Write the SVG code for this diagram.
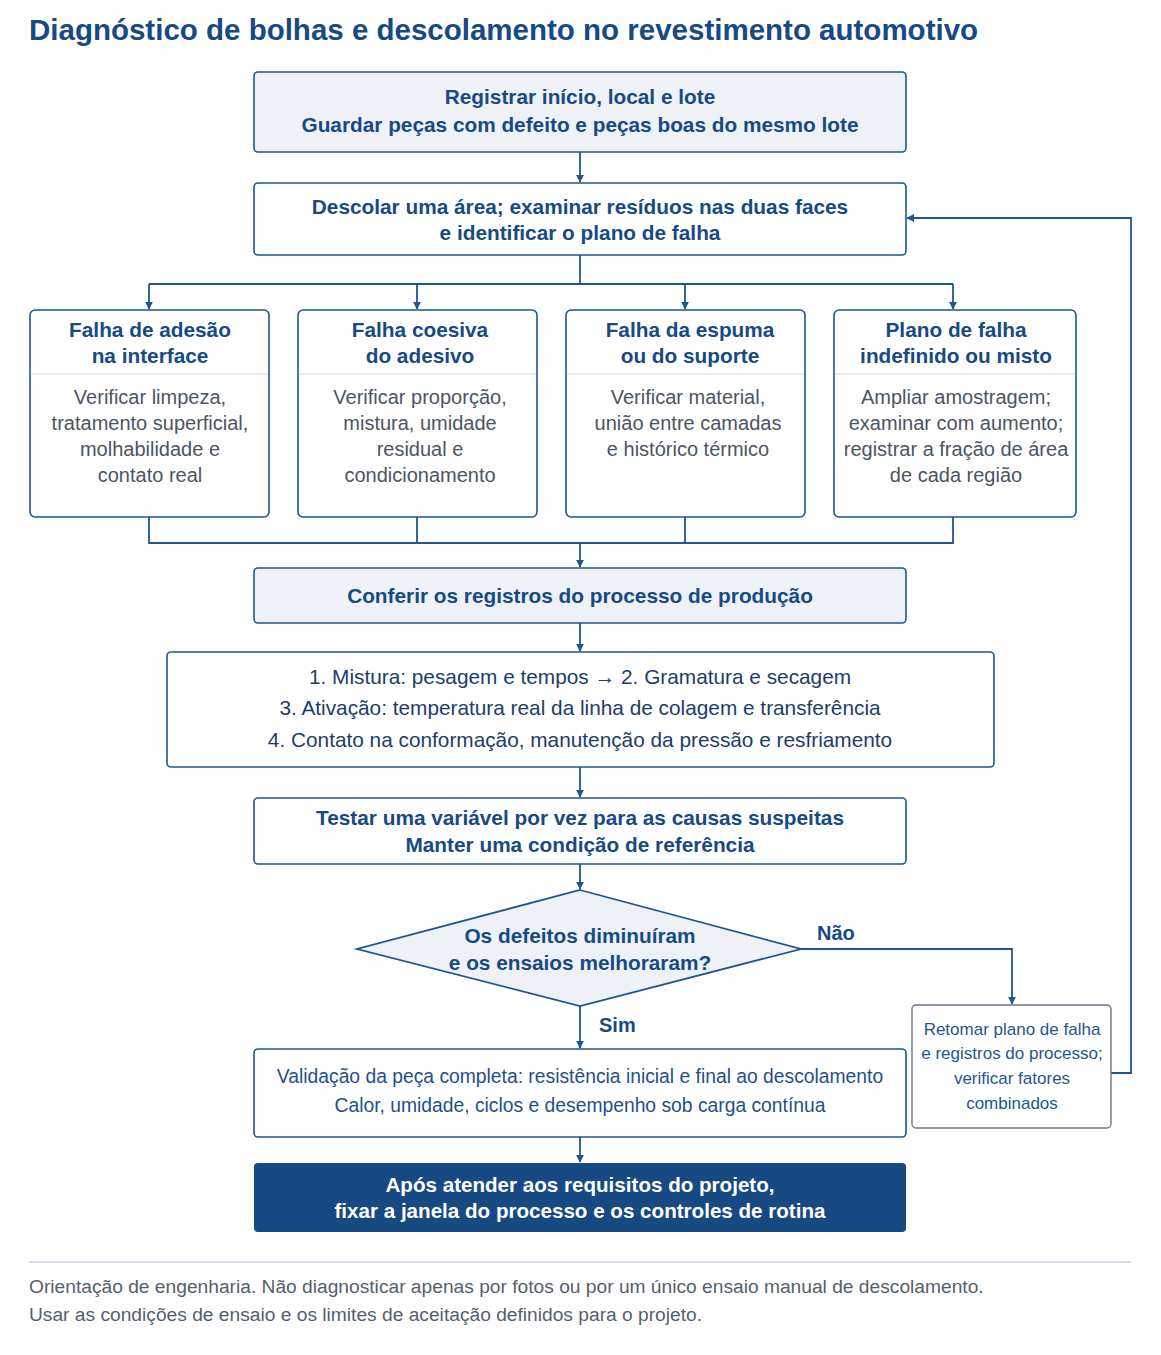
<svg xmlns="http://www.w3.org/2000/svg" width="1161" height="1355" viewBox="0 0 1161 1355">
<defs>
<marker id="arr" viewBox="0 0 10 10" refX="9" refY="5" markerWidth="8" markerHeight="8" markerUnits="userSpaceOnUse" orient="auto">
<path d="M0,0 L10,5 L0,10 z" fill="#1f5596"/>
</marker>
<style>
.t{font-family:"Liberation Sans",Arial,sans-serif}
.title{font-size:29.5px;font-weight:bold;fill:#174a85}
.hb{font-size:20.8px;font-weight:bold;fill:#174a85;text-anchor:middle}
.body{font-size:20px;fill:#4b5563;text-anchor:middle}
.list{font-size:20.8px;fill:#1c3d6b;text-anchor:middle}
.val{font-size:19.3px;fill:#1f4f8c;text-anchor:middle}
.ret{font-size:17px;fill:#1f5596;text-anchor:middle}
.lbl{font-size:20px;font-weight:bold;fill:#174a85}
.wb{font-size:20.6px;font-weight:bold;fill:#ffffff;text-anchor:middle}
.foot{font-size:19.2px;fill:#555f6d}
.box{fill:#ffffff;stroke:#1f5596;stroke-width:1.6}
.gbox{fill:#eef1f5;stroke:#1f5596;stroke-width:1.6}
.conn{fill:none;stroke:#1f5596;stroke-width:1.8}
.sep{stroke:#c9d6e6;stroke-width:1.2}
</style>
</defs>
<rect width="1161" height="1355" fill="#ffffff"/>
<text class="t title" x="29" y="40">Diagnóstico de bolhas e descolamento no revestimento automotivo</text>

<g id="connectors">
<path class="conn" d="M580,152 V182" marker-end="url(#arr)"/>
<path class="conn" d="M580,255 V284 M149,284 H953"/>
<path class="conn" d="M149,284 V309" marker-end="url(#arr)"/>
<path class="conn" d="M417,284 V309" marker-end="url(#arr)"/>
<path class="conn" d="M685,284 V309" marker-end="url(#arr)"/>
<path class="conn" d="M953,284 V309" marker-end="url(#arr)"/>
<path class="conn" d="M149,517 V543 H953 V517 M417,517 V543 M685,517 V543"/>
<path class="conn" d="M580,543 V567" marker-end="url(#arr)"/>
<path class="conn" d="M580,623 V651" marker-end="url(#arr)"/>
<path class="conn" d="M580,767 V797" marker-end="url(#arr)"/>
<path class="conn" d="M580,864 V889" marker-end="url(#arr)"/>
<path class="conn" d="M801,949 H1012 V1004" marker-end="url(#arr)"/>
<path class="conn" d="M1111,1073 H1131 V218 H907" marker-end="url(#arr)"/>
<path class="conn" d="M580,1006 V1048" marker-end="url(#arr)"/>
<path class="conn" d="M580,1137 V1162" marker-end="url(#arr)"/>
<text class="t lbl" x="817" y="940">Não</text>
<text class="t lbl" x="599" y="1032">Sim</text>
</g>

<g id="n-registrar">
<rect class="gbox" x="254" y="72" width="652" height="80" rx="4"/>
<text class="t hb" x="580" y="104">Registrar início, local e lote</text>
<text class="t hb" x="580" y="132">Guardar peças com defeito e peças boas do mesmo lote</text>
</g>

<g id="n-descolar">
<rect class="box" x="254" y="183" width="652" height="72" rx="4"/>
<text class="t hb" x="580" y="214">Descolar uma área; examinar resíduos nas duas faces</text>
<text class="t hb" x="580" y="240">e identificar o plano de falha</text>
</g>

<g id="n-adesao">
<rect class="box" x="30" y="310" width="239" height="207" rx="5"/>
<text class="t hb" x="150" y="337">Falha de adesão</text>
<text class="t hb" x="150" y="363">na interface</text>
<line class="sep" x1="31" y1="374" x2="268" y2="374"/>
<text class="t body" x="150" y="404">Verificar limpeza,</text>
<text class="t body" x="150" y="430">tratamento superficial,</text>
<text class="t body" x="150" y="456">molhabilidade e</text>
<text class="t body" x="150" y="482">contato real</text>
</g>

<g id="n-coesiva">
<rect class="box" x="298" y="310" width="239" height="207" rx="5"/>
<text class="t hb" x="420" y="337">Falha coesiva</text>
<text class="t hb" x="420" y="363">do adesivo</text>
<line class="sep" x1="299" y1="374" x2="536" y2="374"/>
<text class="t body" x="420" y="404">Verificar proporção,</text>
<text class="t body" x="420" y="430">mistura, umidade</text>
<text class="t body" x="420" y="456">residual e</text>
<text class="t body" x="420" y="482">condicionamento</text>
</g>

<g id="n-espuma">
<rect class="box" x="566" y="310" width="239" height="207" rx="5"/>
<text class="t hb" x="690" y="337">Falha da espuma</text>
<text class="t hb" x="690" y="363">ou do suporte</text>
<line class="sep" x1="567" y1="374" x2="804" y2="374"/>
<text class="t body" x="688" y="404">Verificar material,</text>
<text class="t body" x="688" y="430">união entre camadas</text>
<text class="t body" x="688" y="456">e histórico térmico</text>
</g>

<g id="n-indefinido">
<rect class="box" x="834" y="310" width="242" height="207" rx="5"/>
<text class="t hb" x="956" y="337">Plano de falha</text>
<text class="t hb" x="956" y="363">indefinido ou misto</text>
<line class="sep" x1="835" y1="374" x2="1075" y2="374"/>
<text class="t body" x="956" y="404">Ampliar amostragem;</text>
<text class="t body" x="956" y="430">examinar com aumento;</text>
<text class="t body" x="956" y="456">registrar a fração de área</text>
<text class="t body" x="956" y="482">de cada região</text>
</g>

<g id="n-conferir">
<rect class="gbox" x="254" y="568" width="652" height="55" rx="4"/>
<text class="t hb" x="580" y="603">Conferir os registros do processo de produção</text>
</g>

<g id="n-lista">
<rect class="box" x="167" y="652" width="827" height="115" rx="4"/>
<text class="t list" x="580" y="684">1. Mistura: pesagem e tempos → 2. Gramatura e secagem</text>
<text class="t list" x="580" y="715">3. Ativação: temperatura real da linha de colagem e transferência</text>
<text class="t list" x="580" y="747">4. Contato na conformação, manutenção da pressão e resfriamento</text>
</g>

<g id="n-testar">
<rect class="box" x="254" y="798" width="652" height="66" rx="4"/>
<text class="t hb" x="580" y="825">Testar uma variável por vez para as causas suspeitas</text>
<text class="t hb" x="580" y="852">Manter uma condição de referência</text>
</g>

<g id="n-decisao">
<polygon points="580,890 801,949 580,1006 357,949" fill="#eef1f5" stroke="#1f5596" stroke-width="1.8"/>
<text class="t hb" x="580" y="943">Os defeitos diminuíram</text>
<text class="t hb" x="580" y="970">e os ensaios melhoraram?</text>
</g>

<g id="n-retomar">
<rect x="912" y="1005" width="199" height="123" rx="4" fill="#ffffff" stroke="#6b7785" stroke-width="1.4"/>
<text class="t ret" x="1012" y="1035">Retomar plano de falha</text>
<text class="t ret" x="1012" y="1059">e registros do processo;</text>
<text class="t ret" x="1012" y="1084">verificar fatores</text>
<text class="t ret" x="1012" y="1109">combinados</text>
</g>

<g id="n-validacao">
<rect class="box" x="254" y="1049" width="652" height="88" rx="4"/>
<text class="t val" x="580" y="1083">Validação da peça completa: resistência inicial e final ao descolamento</text>
<text class="t val" x="580" y="1112">Calor, umidade, ciclos e desempenho sob carga contínua</text>
</g>

<g id="n-final">
<rect x="254" y="1163" width="652" height="69" rx="4" fill="#174a82"/>
<text class="t wb" x="580" y="1192">Após atender aos requisitos do projeto,</text>
<text class="t wb" x="580" y="1218">fixar a janela do processo e os controles de rotina</text>
</g>

<line x1="29" y1="1262" x2="1131" y2="1262" stroke="#c8d2e0" stroke-width="1.5"/>
<text class="t foot" x="29" y="1293">Orientação de engenharia. Não diagnosticar apenas por fotos ou por um único ensaio manual de descolamento.</text>
<text class="t foot" x="29" y="1321">Usar as condições de ensaio e os limites de aceitação definidos para o projeto.</text>
</svg>
